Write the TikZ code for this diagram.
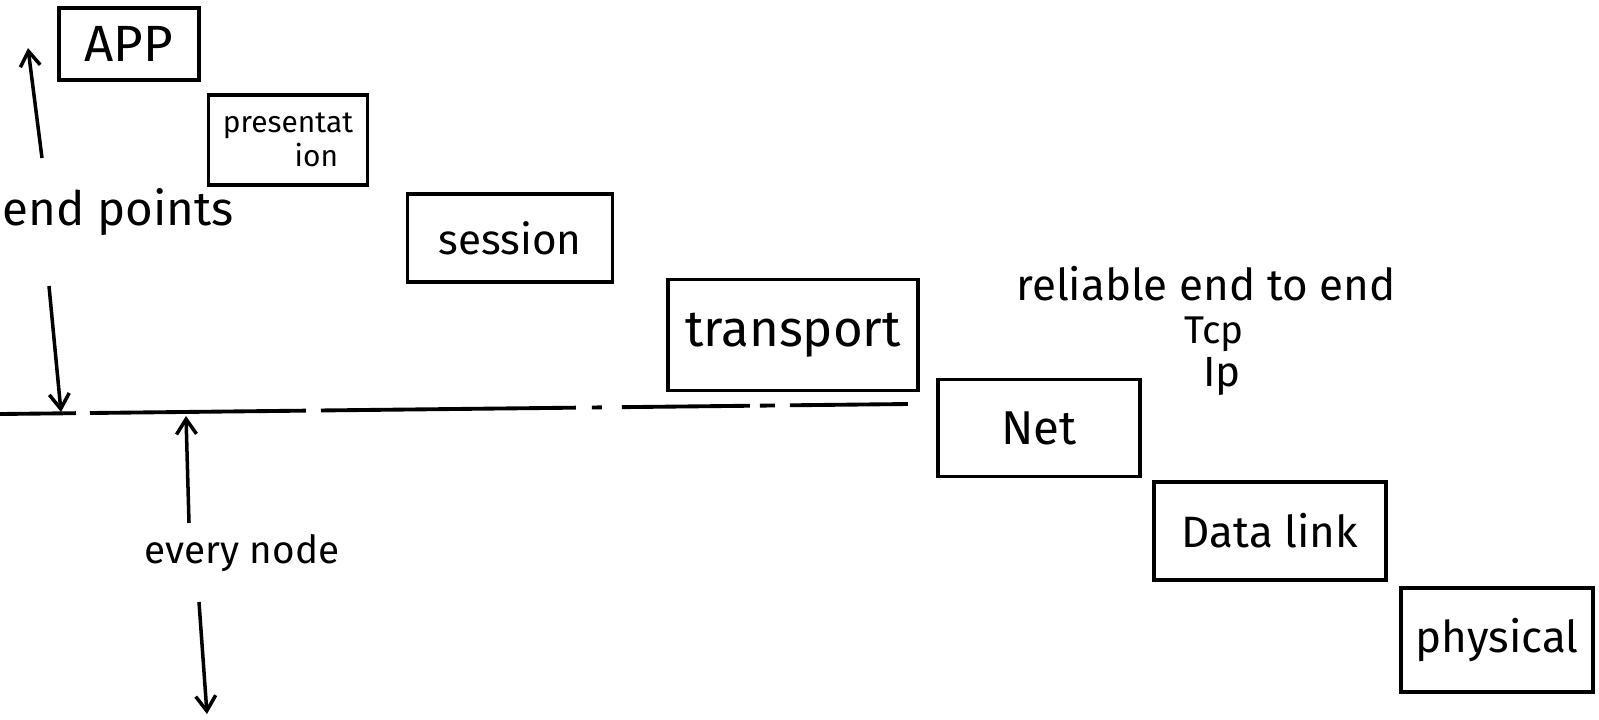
\documentclass[tikz,border=0pt]{standalone}
\usepackage{fontspec}
\setmainfont{Fira Sans}
\usetikzlibrary{arrows.meta}
\begin{document}
\begin{tikzpicture}[x=0.2mm,y=-0.2mm,
  layerbox/.style n args={2}{draw, line width=2.2pt, inner sep=0pt,
    minimum width=#1*0.2mm, minimum height=#2*0.2mm},
  handtext/.style={font=\fontsize{#1}{#1}\selectfont, inner sep=0pt},
  arrowline/.style={line width=2pt, -{Straight Barb[length=3mm, width=4mm, line width=2pt]}},
  baseline/.style={line width=2.2pt,
    dash pattern=on 15.2mm off 2.8mm on 43.2mm off 3mm on 51mm off 3.2mm
                 on 2mm off 4mm on 25.6mm off 2mm on 3mm off 3mm on 23.6mm}]
  \useasboundingbox (0,0) rectangle (1599,719);

  % the seven layers, stepping down to the right
  \node[layerbox={140}{72}, handtext=29] (app) at (129,44) {APP};
  \node[layerbox={159}{90}, handtext=17, align=left] (pres) at (288,140)
    {presentat\\[2pt]\hspace*{2.4em}ion};
  \node[layerbox={205}{88}, handtext=24] (session) at (510,238) {session};
  \node[layerbox={250}{111}, handtext=29] (transport) at (793,335) {transport};
  \node[layerbox={202}{97}, handtext=27] (net) at (1039,428) {Net};
  \node[layerbox={232}{98}, handtext=25] (datalink) at (1270,531) {Data link};
  \node[layerbox={192}{104}, handtext=25] (physical) at (1497,640) {physical};

  % annotations
  \node[handtext=27] (endpts) at (118,212) {end points};
  \node[handtext=22] (every) at (242,553) {every node};
  \node[handtext=25] (reliable) at (1206,284) {reliable end to end};
  \node[handtext=22] (tcp) at (1214,334) {Tcp};
  \node[handtext=24] (ip) at (1222,376) {Ip};

  % dashed boundary between end-point layers and per-node layers
  \coordinate (lineL) at (0,414);
  \coordinate (lineR) at (908,404);
  \draw[baseline] (lineL) -- (lineR);

  % arrows for the two groups
  \coordinate (upTop) at (28,48);
  \coordinate (upStart) at (42,158);
  \coordinate (downStart) at (49,286);
  \coordinate (downEnd) at (61,412);
  \coordinate (nodeUpStart) at (189,523);
  \coordinate (nodeUpEnd) at (186,416);
  \coordinate (nodeDownStart) at (199,602);
  \coordinate (nodeDownEnd) at (207,714);
  \draw[arrowline] (upStart) -- (upTop);
  \draw[arrowline] (downStart) -- (downEnd);
  \draw[arrowline] (nodeUpStart) -- (nodeUpEnd);
  \draw[arrowline] (nodeDownStart) -- (nodeDownEnd);
\end{tikzpicture}
\end{document}
